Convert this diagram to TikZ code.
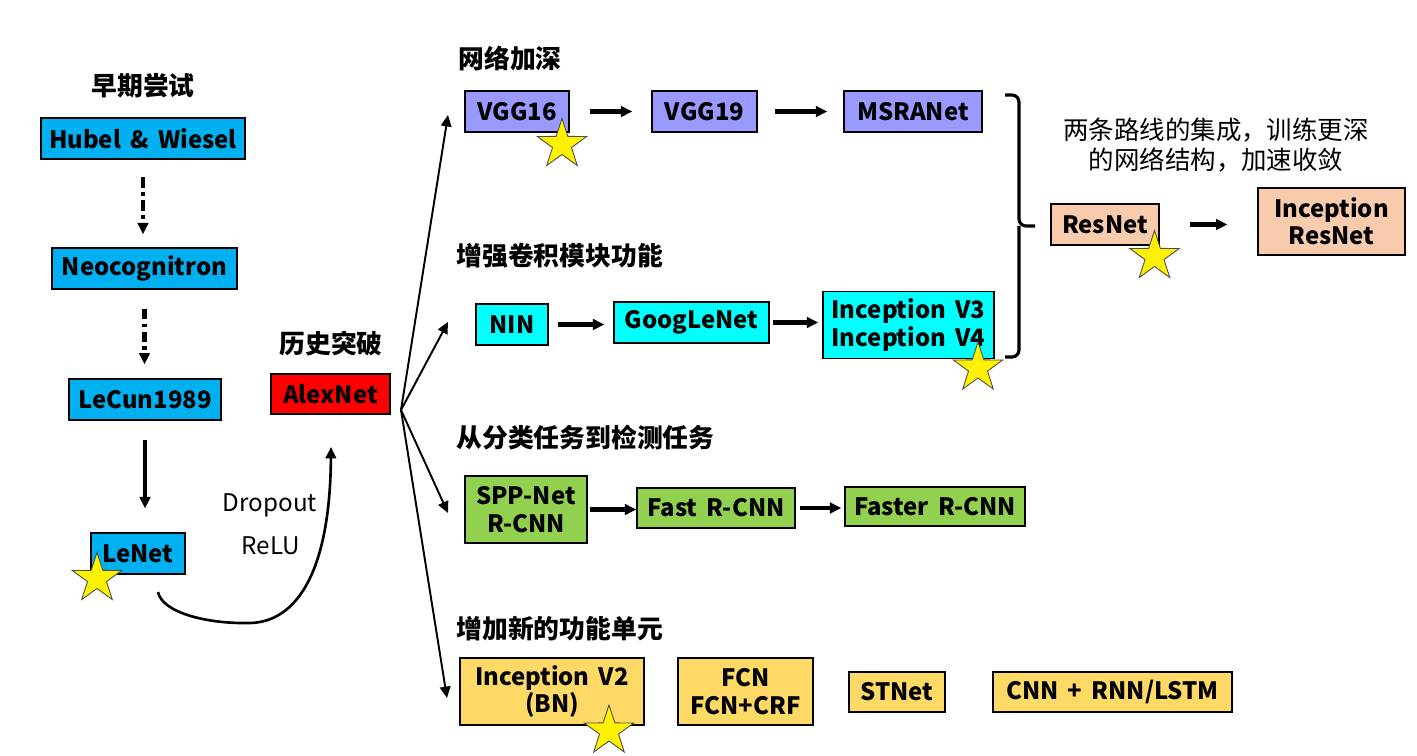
\documentclass[tikz,border=0pt]{standalone}
\usepackage{fontspec}
\setmainfont{Noto Sans CJK SC}[WordSpace=1.7]
\usetikzlibrary{arrows.meta,shapes.geometric}

\definecolor{earlyblue}{HTML}{00B0F0}
\definecolor{deeppurple}{HTML}{9999FF}
\definecolor{blockcyan}{HTML}{00FFFF}
\definecolor{detgreen}{HTML}{92D050}
\definecolor{resorange}{HTML}{F8CBAD}
\definecolor{unitgold}{HTML}{FFD966}

\begin{document}
\begin{tikzpicture}[x=0.02cm,y=-0.02cm,>={Triangle[length=6.5pt,width=6pt]},
  net/.style={draw,line width=0.8pt,inner sep=0pt,align=center,
    font=\fontsize{13.6}{15.5}\selectfont\bfseries},
  wh/.style 2 args={minimum width=#1*0.02cm,minimum height=#2*0.02cm},
  title/.style={inner sep=0pt,font=\fontsize{14.7}{17}\selectfont\bfseries},
  note/.style={inner sep=0pt,align=center,font=\fontsize{14.5}{17}\selectfont},
  prize/.style={star,star points=5,star point ratio=2.6,minimum size=1.04cm,
    inner sep=0pt,fill=yellow,draw=black!70,line width=0.5pt},
  hop/.style={->,line width=2.3pt},
  dashhop/.style={->,line width=2.3pt,dash pattern=on 6pt off 2.5pt on 2pt off 2.5pt},
  fanarrow/.style={->,line width=1.1pt}]

\useasboundingbox (0,0) rectangle (1417,755);

% early attempts
\node[title] (t-early) at (143,86) {早期尝试};
\node[net,fill=earlyblue,wh={204}{41}] (hubel) at (143,138.5) {Hubel \& Wiesel};
\node[net,fill=earlyblue,wh={185}{41}] (neo)   at (144.5,268.5) {Neocognitron};
\node[net,fill=earlyblue,wh={152}{41}] (lecun) at (145,399.5) {LeCun1989};
\node[net,fill=earlyblue,wh={94}{41}]  (lenet) at (138,553.5) {LeNet};
\node[prize] (star-lenet) at (97,578.5) {};

\draw[dashhop,shorten <=10pt,shorten >=7.4pt] (hubel.south) -- (hubel.south |- neo.north);
\draw[dashhop,shorten <=10.8pt,shorten >=7.9pt] (neo.south) -- (neo.south |- lecun.north);
\draw[hop,shorten <=10.8pt,shorten >=13.6pt] (lecun.south) -- (lecun.south |- lenet.north);

% breakthrough
\node[title] (t-break) at (331,344) {历史突破};
\node[net,fill=red,wh={119}{40}] (alex) at (330.5,394) {AlexNet};
\node[note,font=\fontsize{13.8}{17}\selectfont] (dropout) at (270,505) {Dropout};
\node[note,font=\fontsize{13.8}{17}\selectfont] (relu)    at (271,546) {ReLU};
\coordinate (lenet-out) at (158,592);
\coordinate (alex-in)   at (331,447);
\draw[->,line width=1.5pt] (lenet-out) .. controls (162,612) and (205,624) .. (250,623)
  .. controls (295,622) and (330,575) .. (alex-in);

% fan out
\coordinate (fan) at (401,410);
\coordinate (to-deep) at (448,115);
\coordinate (to-block) at (448,322);
\coordinate (to-det) at (448,513);
\coordinate (to-unit) at (447,698);
\draw[fanarrow] (fan) -- (to-deep);
\draw[fanarrow] (fan) -- (to-block);
\draw[fanarrow] (fan) -- (to-det);
\draw[fanarrow] (fan) -- (to-unit);

% deeper networks
\node[title,anchor=west] (t-deep) at (458,58) {网络加深};
\node[net,fill=deeppurple,wh={104}{41}] (vgg16) at (517,111.5) {VGG16};
\node[net,fill=deeppurple,wh={105}{41}] (vgg19) at (704.5,111.5) {VGG19};
\node[net,fill=deeppurple,wh={138}{41}] (msra)  at (913,111.5) {MSRANet};
\node[prize] (star-vgg) at (562,144.5) {};
\draw[hop,shorten <=11.3pt,shorten >=10.8pt] (vgg16.east) -- (vgg16.east -| vgg19.west);
\draw[hop,shorten <=9.6pt,shorten >=9.1pt] (vgg19.east) -- (vgg19.east -| msra.west);

% conv block
\node[title,anchor=west] (t-block) at (456,256) {增强卷积模块功能};
\node[net,fill=blockcyan,wh={72}{41}]  (nin)    at (512,324.5) {NIN};
\node[net,fill=blockcyan,wh={155}{41}] (google) at (691.5,322.5) {GoogLeNet};
\node[net,fill=blockcyan,wh={171}{67}] (incv34) at (908.5,325) {Inception V3\\Inception V4};
\node[prize] (star-inc) at (978,368) {};
\draw[hop,shorten <=5.1pt,shorten >=5.1pt] (nin.east) -- (nin.east -| google.west);
\draw[hop,shorten <=1.7pt,shorten >=2.3pt] (google.east) -- (google.east -| incv34.west);

% merge of both routes
\coordinate (brace-top) at (1005,95);
\coordinate (brace-bot) at (1005,357);
\coordinate (brace-tip) at (1035,226);
\draw[line width=1.8pt,rounded corners=4pt] (brace-top) -| (1019,226) -- (brace-tip);
\draw[line width=1.8pt,rounded corners=4pt] (brace-bot) -| (1019,226);
\node[note] (merge) at (1216,145) {两条路线的集成，训练更深\\的网络结构，加速收敛};
\node[net,fill=resorange,wh={108}{41}] (resnet) at (1105,224.5) {ResNet};
\node[net,fill=resorange,wh={147}{67}] (incres) at (1331.5,221.5) {Inception\\ResNet};
\node[prize] (star-res) at (1154.5,256.5) {};
\draw[hop,shorten <=17pt,shorten >=17pt] (resnet.east) -- (resnet.east -| incres.west);

% detection
\node[title,anchor=west] (t-det) at (456,438) {从分类任务到检测任务};
\node[net,fill=detgreen,wh={122}{67}] (spp)    at (526,509.5) {SPP-Net\\R-CNN};
\node[net,fill=detgreen,wh={158}{40}] (fast)   at (716,508) {Fast R-CNN};
\node[net,fill=detgreen,wh={180}{39}] (faster) at (935,506.5) {Faster R-CNN};
\draw[hop,shorten <=1.1pt] (spp.east) -- (spp.east -| fast.west);
\draw[hop,shorten <=2.3pt,shorten >=1.7pt] (fast.east) -- (fast.east -| faster.west);

% new units
\node[title,anchor=west] (t-unit) at (456,629) {增加新的功能单元};
\node[net,fill=unitgold,wh={184}{67}] (incv2)  at (552,691.5) {Inception V2\\(BN)};
\node[net,fill=unitgold,wh={135}{67}] (fcn)    at (745.5,691.5) {FCN\\FCN+CRF};
\node[net,fill=unitgold,wh={96}{40}]  (stnet)  at (897,692) {STNet};
\node[net,fill=unitgold,wh={239}{40}] (cnnrnn) at (1112.5,692) {CNN + RNN/LSTM};
\node[prize] (star-bn) at (609,731) {};

\end{tikzpicture}
\end{document}
